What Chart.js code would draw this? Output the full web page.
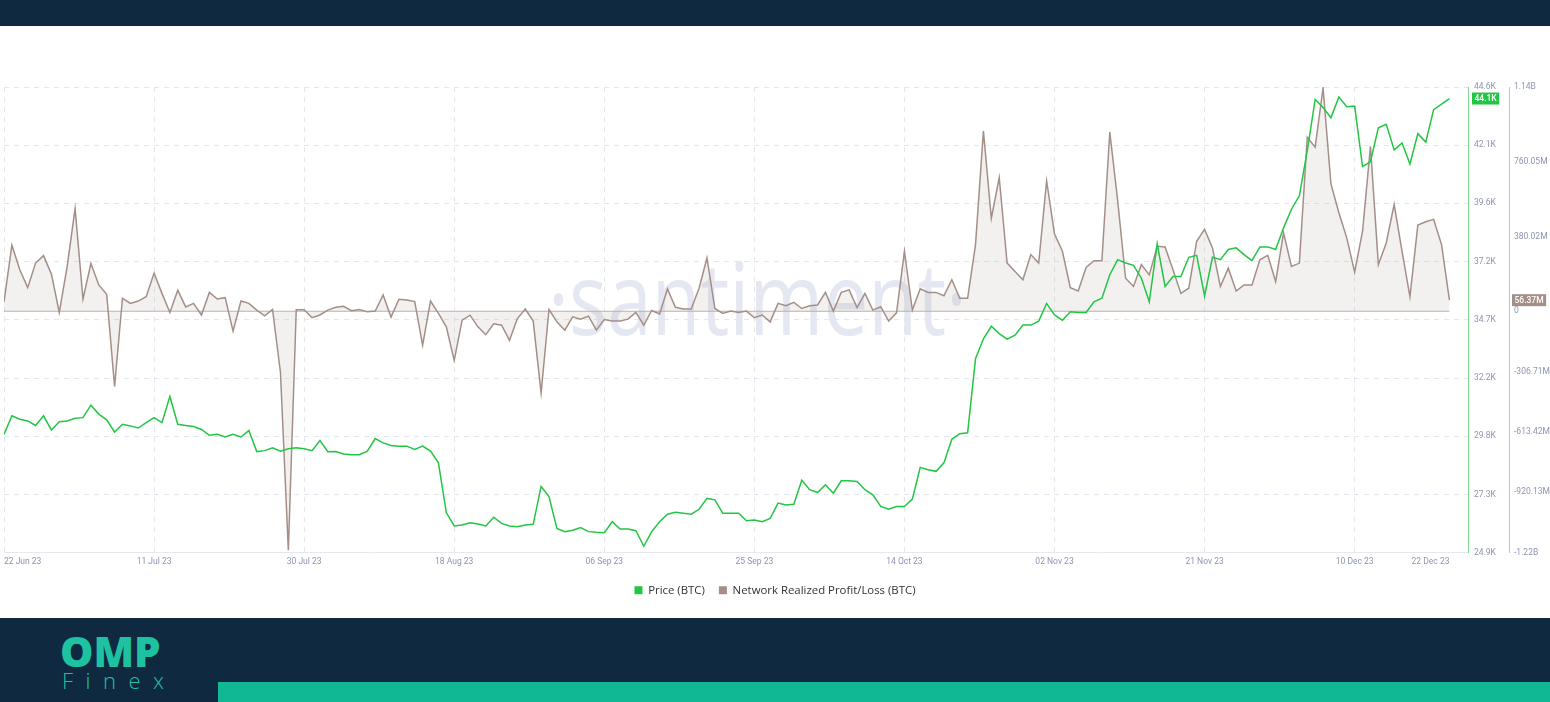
<!DOCTYPE html>
<html>
<head>
<meta charset="utf-8">
<script src="https://cdn.jsdelivr.net/npm/chart.js@4.4.1/dist/chart.umd.min.js"></script>
<style>
  html, body { margin: 0; padding: 0; width: 1550px; height: 702px; overflow: hidden; background: #fff; font-family: "Open Sans", sans-serif; }
  .topbar { position: absolute; left: 0; top: 0; width: 1550px; height: 26px; background: #0f2a40; }
  .chart-wrap { position: absolute; left: 0; top: 26px; width: 1550px; height: 592px; }
  .watermark { position: absolute; left: 548px; top: 220px; font-size: 100px; font-weight: 400; color: #e5e8f2; line-height: 1; white-space: nowrap; transform: scaleX(0.8); transform-origin: left top; }
  #chart { position: absolute; left: 0; top: 0; }
  .footer { position: absolute; left: 0; top: 618px; width: 1550px; height: 84px; background: #0f2a40; }
  .logo-omp { position: absolute; left: 60px; top: 630px; font-size: 42px; font-weight: 800; color: #1fc2a0; line-height: 1; }
  .logo-finex { position: absolute; left: 62px; top: 669px; font-size: 22px; font-weight: 300; color: #1fc2a0; line-height: 1; letter-spacing: 12.5px; }
  .footer-bar { position: absolute; left: 218px; top: 682px; width: 1332px; height: 20px; background: #10b894; }
</style>
</head>
<body>
<div class="topbar"></div>
<div class="chart-wrap">
  <div class="watermark">·santiment·</div>
  <canvas id="chart" width="1550" height="592"></canvas>
</div>
<div class="footer"></div>
<div class="logo-omp">OMP</div>
<div class="logo-finex">Finex</div>
<div class="footer-bar"></div>

<script>
// daily values, 22 Jun 23 -> 22 Dec 23 (184 days)
const priceK = [
  29.88, 30.67, 30.52, 30.45, 30.26, 30.67, 30.07, 30.42, 30.45, 30.56,
  30.59, 31.12, 30.74, 30.50, 29.98, 30.31, 30.24, 30.15, 30.38, 30.59,
  30.38, 31.49, 30.31, 30.26, 30.21, 30.09, 29.84, 29.88, 29.77, 29.88,
  29.77, 30.04, 29.15, 29.19, 29.31, 29.17, 29.27, 29.31, 29.27, 29.19,
  29.62, 29.14, 29.15, 29.05, 29.02, 29.02, 29.17,
  29.70, 29.52, 29.41, 29.38, 29.38, 29.24, 29.38, 29.17, 28.67, 26.56,
  25.99, 26.03, 26.13, 26.07, 25.99, 26.36, 26.10, 25.99, 25.96, 26.03,
  26.06, 27.67, 27.24, 25.89, 25.75, 25.81, 25.92, 25.75, 25.72, 25.70,
  26.17, 25.86, 25.86, 25.79, 25.13, 25.75, 26.17, 26.49, 26.57, 26.53,
  26.49, 26.70, 27.16, 27.10, 26.53, 26.53,
  26.53, 26.21, 26.24, 26.17, 26.31, 26.96, 26.88, 26.91, 27.93, 27.53,
  27.41, 27.74, 27.38, 27.91, 27.91, 27.88, 27.53, 27.31, 26.82, 26.70,
  26.82, 26.82, 27.13, 28.48, 28.38, 28.31, 28.67, 29.67, 29.91, 29.95,
  33.09, 33.94, 34.47, 34.16, 33.92, 34.09, 34.52, 34.52, 34.69, 35.44,
  34.95, 34.73, 35.09, 35.06, 35.06, 35.51,
  35.66, 36.66, 37.30, 37.16, 37.06, 36.51, 35.51, 37.97, 36.16, 36.58,
  36.58, 37.40, 37.48, 35.76, 37.40, 37.30, 37.73, 37.80, 37.51, 37.26,
  37.84, 37.84, 37.73, 38.65, 39.44, 40.01, 41.93, 44.10, 43.76, 43.33,
  44.21, 43.79, 43.82, 41.25, 41.46, 42.90, 43.05, 41.96, 42.25, 41.36,
  42.65, 42.29, 43.67, 43.90, 44.14
];

// network realized profit/loss, millions
const pnlM = [
  48, 336, 211, 120, 245, 283, 189, -6, 228, 522,
  62, 243, 134, 86, -382, 66, 40, 52, 74, 194,
  91, -6, 107, 22, 40, -19, 96, 62, 69, -101,
  52, 40, 6, -23, 9, -310, -1215, 8, 8, -33,
  -19, 6, 20, 25, 3, 9, -3,
  1, 83, -30, 61, 57, 49, -173, 52, -11, -79,
  -250, -45, -20, -79, -119, -64, -71, -148, -37, 11,
  -50, -416, 9, -54, -96, -28, -40, -25, -96, -42,
  -50, -50, -40, -6, -71, 4, -14, 114, 20, 11,
  11, 117, 271, 14, -11, 1,
  -6, 1, -33, -19, -54, 40, 28, 45, 14, 28,
  32, 96, 1, 96, 109, 19, 91, 6, 23, -50,
  -8, 305, 6, 114, 96, 96, 79, 160, 66, 66,
  339, 916, 472, 680, 245, 202, 160, 288, 245, 663,
  393, 305, 120, 103, 223, 257,
  257, 911, 561, 168, 126, 237, 185, 330, 327, 211,
  91, 117, 356, 416, 322, 126, 219, 103, 134, 134,
  262, 284, 151, 399, 228, 245, 885, 834, 1135, 647,
  501, 373, 199, 407, 838, 237, 347, 544, 305, 74,
  438, 455, 467, 339, 56.37
];

const xTickDays = [0, 19, 38, 57, 76, 95, 114, 133, 152, 171, 183];
const xTickLabels = ['22 Jun 23', '11 Jul 23', '30 Jul 23', '18 Aug 23', '06 Sep 23', '25 Sep 23',
  '14 Oct 23', '02 Nov 23', '21 Nov 23', '10 Dec 23', '22 Dec 23'];

const priceTicks = [24.86, 27.33, 29.80, 32.27, 34.75, 37.22, 39.69, 42.16, 44.63];
const priceTickLabels = ['24.9K', '27.3K', '29.8K', '32.2K', '34.7K', '37.2K', '39.6K', '42.1K', '44.6K'];

const pnlTicks = [-1226.84, -920.13, -613.42, -306.71, 0, 380.02, 760.05, 1140.07];
const pnlTickLabels = ['-1.22B', '-920.13M', '-613.42M', '-306.71M', '0', '380.02M', '760.05M', '1.14B'];

const GREEN = '#22c544';
const BROWN = '#a48f88';
const TICK_COLOR = '#8e94b2';
const GRID_COLOR = '#e4e6ef';
const FONT = '"Open Sans", sans-serif';
const TICK_FONT = { family: 'Roboto, sans-serif', size: 8.5 };

const priceData = priceK.map((v, i) => ({ x: i, y: v }));
const pnlData = pnlM.map((v, i) => ({ x: i, y: v }));

// zero baseline under the P/L fill + last value badges
const extrasPlugin = {
  id: 'extras',
  beforeDatasetsDraw(chart) {
    const { ctx, scales } = chart;
    const y0 = scales.yPnl.getPixelForValue(0);
    ctx.save();
    ctx.strokeStyle = '#c2b3ad';
    ctx.lineWidth = 1;
    ctx.beginPath();
    ctx.moveTo(scales.x.getPixelForValue(0), y0);
    ctx.lineTo(scales.x.getPixelForValue(pnlM.length - 1), y0);
    ctx.stroke();
    ctx.restore();
  },
  afterDraw(chart) {
    const { ctx, scales } = chart;
    ctx.save();
    ctx.font = '500 8.5px Roboto, sans-serif';
    ctx.textBaseline = 'middle';

    const lastPrice = priceK[priceK.length - 1];
    const py = scales.yPrice.getPixelForValue(lastPrice);
    const ptxt = lastPrice.toFixed(1) + 'K';
    const pw = ctx.measureText(ptxt).width + 5;
    ctx.fillStyle = GREEN;
    ctx.fillRect(scales.yPrice.left + 4, py - 6, pw, 12);
    ctx.fillStyle = '#fff';
    ctx.fillText(ptxt, scales.yPrice.left + 6.5, py + 0.5);

    const lastPnl = pnlM[pnlM.length - 1];
    const ly = scales.yPnl.getPixelForValue(lastPnl);
    const ltxt = lastPnl.toFixed(2) + 'M';
    const lw = ctx.measureText(ltxt).width + 5;
    ctx.fillStyle = BROWN;
    ctx.fillRect(scales.yPnl.left + 3, ly - 6, lw, 12);
    ctx.fillStyle = '#fff';
    ctx.fillText(ltxt, scales.yPnl.left + 5.5, ly + 0.5);
    ctx.restore();
  }
};

new Chart(document.getElementById('chart').getContext('2d'), {
  type: 'line',
  data: {
    datasets: [
      {
        label: 'Price (BTC)',
        data: priceData,
        yAxisID: 'yPrice',
        borderColor: GREEN,
        backgroundColor: GREEN,
        borderWidth: 1.5,
        pointRadius: 0,
        tension: 0,
        fill: false,
        order: 0
      },
      {
        label: 'Network Realized Profit/Loss (BTC)',
        data: pnlData,
        yAxisID: 'yPnl',
        borderColor: BROWN,
        backgroundColor: 'rgba(164, 143, 136, 0.13)',
        borderWidth: 1.5,
        pointRadius: 0,
        tension: 0,
        fill: 'origin',
        order: 1
      }
    ]
  },
  options: {
    responsive: false,
    animation: false,
    layout: { padding: { top: 61, left: 0, right: 0, bottom: 12 } },
    scales: {
      x: {
        type: 'linear',
        min: 0,
        max: 185.35,
        afterBuildTicks: s => { s.ticks = xTickDays.map(v => ({ value: v })); },
        afterFit: s => { s.height = 18; },
        ticks: {
          autoSkip: false,
          maxRotation: 0,
          align: 'inner',
          padding: 4,
          color: TICK_COLOR,
          font: TICK_FONT,
          callback: (v, i) => xTickLabels[i]
        },
        grid: {
          color: ctx => ctx.index === xTickDays.length - 1 ? 'transparent' : GRID_COLOR,
          drawTicks: false
        },
        border: { display: true, color: '#e6e8ef', dash: [5, 5] }
      },
      yPrice: {
        position: 'right',
        weight: 1,
        min: priceTicks[0],
        max: priceTicks[priceTicks.length - 1],
        afterBuildTicks: s => { s.ticks = priceTicks.map(v => ({ value: v })); },
        afterFit: s => { s.width = 41; },
        ticks: {
          padding: 6,
          color: TICK_COLOR,
          font: TICK_FONT,
          callback: (v, i) => priceTickLabels[i]
        },
        grid: { color: GRID_COLOR, drawTicks: false },
        border: { display: true, color: '#7fd78e', dash: [5, 5] }
      },
      yPnl: {
        position: 'right',
        weight: 2,
        min: pnlTicks[0],
        max: pnlTicks[pnlTicks.length - 1],
        afterBuildTicks: s => { s.ticks = pnlTicks.map(v => ({ value: v })); },
        afterFit: s => { s.width = 41; },
        ticks: {
          padding: 5,
          color: TICK_COLOR,
          font: TICK_FONT,
          callback: (v, i) => pnlTickLabels[i]
        },
        grid: { display: false, drawTicks: false },
        border: { display: true, color: '#cbbfba' }
      }
    },
    plugins: {
      legend: {
        position: 'bottom',
        labels: {
          boxWidth: 8,
          boxHeight: 8,
          padding: 14,
          color: '#333',
          font: { family: FONT, size: 11.4 },
          generateLabels: chart => chart.data.datasets.map((ds, i) => ({
            text: ds.label,
            fillStyle: ds.borderColor,
            strokeStyle: ds.borderColor,
            lineWidth: 0,
            datasetIndex: i,
            fontColor: '#333'
          }))
        }
      },
      tooltip: { enabled: false }
    }
  },
  plugins: [extrasPlugin]
});
</script>
</body>
</html>
